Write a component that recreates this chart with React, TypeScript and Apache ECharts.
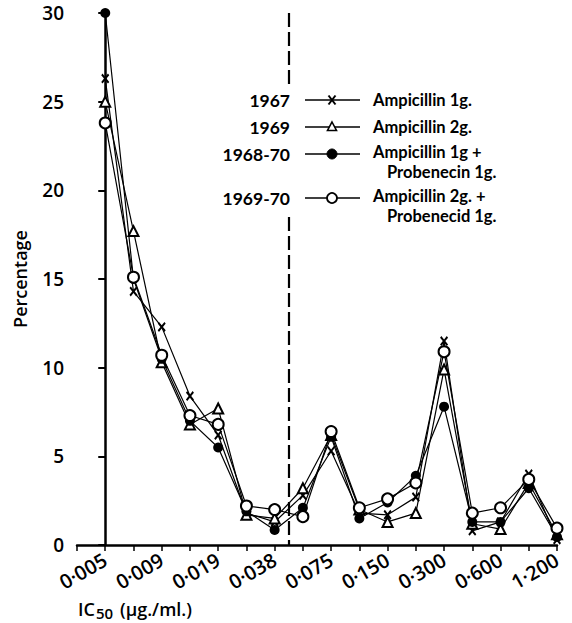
import React, { useEffect, useRef } from 'react';
import * as echarts from 'echarts';

// IC50 categories (µg/ml); labelled every other step
const concentrations = ['0·005', '', '0·009', '', '0·019', '', '0·038', '', '0·075', '', '0·150', '', '0·300', '', '0·600', '', '1·200'];

// Percentage of strains at each IC50
const amp1g1967 = [26.3, 14.3, 12.3, 8.4, 6.2, 1.8, 1.3, 2.8, 5.3, 1.8, 1.7, 2.7, 11.5, 0.8, 1.3, 4.0, 0.3];
const amp2g1969 = [25.0, 17.7, 10.3, 6.8, 7.7, 1.7, 1.5, 3.2, 6.2, 2.0, 1.3, 1.8, 9.9, 1.2, 0.9, 3.5, 0.6];
const amp1gProb1968_70 = [30.0, 15.0, 10.5, 7.0, 5.5, 1.9, 0.85, 2.1, 6.1, 1.5, 2.4, 3.9, 7.8, 1.3, 1.3, 3.2, 0.45];
const amp2gProb1969_70 = [23.8, 15.1, 10.7, 7.3, 6.8, 2.2, 2.0, 1.6, 6.4, 2.1, 2.6, 3.5, 10.9, 1.8, 2.1, 3.7, 0.95];

const yTickValues = [0, 5, 10, 15, 20, 25, 30];

// dashed divider between categories 0·038 and 0·075, interrupted by the key
const dividerX = 6.5;
const dividerGap = [18.5, 26.0];

const legendYears = ['1967', '1969', '1968-70', '1969-70'];
const legendNames = ['Ampicillin 1g.', 'Ampicillin 2g.', 'Ampicillin 1g +', 'Ampicillin 2g. +'];
const legendSecond = ['', '', 'Probenecin 1g.', 'Probenecid 1g.'];

const FONT = "'Open Sans', 'DejaVu Sans', sans-serif";
const LFONT = "Lato, 'Open Sans', sans-serif";
const XSYM = 'path://M0,1.6L1.6,0L5,3.4L8.4,0L10,1.6L6.6,5L10,8.4L8.4,10L5,6.6L1.6,10L0,8.4L3.4,5Z';

export default function App() {
  const ref = useRef<HTMLDivElement>(null);
  useEffect(() => {
    const chart = echarts.init(ref.current!, null, { renderer: 'svg' });
    const toData = (arr: number[]) => arr.map((v, i) => [i, v]);
    const lineStyle = { color: '#000', width: 1.2 };
    const txt = { fontFamily: FONT, fontSize: 18, fontWeight: 600, fill: '#000' };
    const ltxt = { fontFamily: LFONT, fontSize: 16.5, fontWeight: 'bold', fill: '#000' };

    const rowsY = [100, 127, 154, 198];
    const graphic: any[] = [];
    rowsY.forEach((y, i) => {
      graphic.push({ type: 'text', x: 290, y, style: { ...ltxt, fontSize: 17.5, text: legendYears[i], align: 'right', verticalAlign: 'middle' } });
      graphic.push({ type: 'line', shape: { x1: 305, y1: y, x2: 360, y2: y }, style: { stroke: '#000', lineWidth: 1.3 } });
      graphic.push({ type: 'text', x: 373, y: legendSecond[i] ? y - 2 : y, style: { ...ltxt, text: legendNames[i], align: 'left', verticalAlign: 'middle' } });
      if (legendSecond[i]) {
        graphic.push({ type: 'text', x: 387, y: y + 18, style: { ...ltxt, text: legendSecond[i], align: 'left', verticalAlign: 'middle' } });
      }
    });
    const mx = 332;
    graphic.push({ type: 'line', shape: { x1: mx - 3.5, y1: rowsY[0] - 4.5, x2: mx + 3.5, y2: rowsY[0] + 4.5 }, style: { stroke: '#000', lineWidth: 2 } });
    graphic.push({ type: 'line', shape: { x1: mx + 3.5, y1: rowsY[0] - 4.5, x2: mx - 3.5, y2: rowsY[0] + 4.5 }, style: { stroke: '#000', lineWidth: 2 } });
    graphic.push({ type: 'polygon', shape: { points: [[mx, rowsY[1] - 5], [mx + 4.5, rowsY[1] + 3.5], [mx - 4.5, rowsY[1] + 3.5]] }, style: { fill: '#fff', stroke: '#000', lineWidth: 1.6 } });
    graphic.push({ type: 'circle', shape: { cx: mx, cy: rowsY[2], r: 5 }, style: { fill: '#000', stroke: '#000', lineWidth: 1 } });
    graphic.push({ type: 'circle', shape: { cx: mx, cy: rowsY[3], r: 5 }, style: { fill: '#fff', stroke: '#000', lineWidth: 1.8 } });
    // x-axis title: IC50 (µg./ml.)
    graphic.push({ type: 'text', x: 78, y: 609, style: { ...txt, text: 'IC', align: 'left', verticalAlign: 'middle' } });
    graphic.push({ type: 'text', x: 96, y: 613, style: { ...txt, fontSize: 15, text: '50', align: 'left', verticalAlign: 'middle' } });
    graphic.push({ type: 'text', x: 120, y: 609, style: { ...txt, text: '(µg./ml.)', align: 'left', verticalAlign: 'middle' } });

    chart.setOption({
      animation: false,
      backgroundColor: '#fff',
      grid: { left: 77, right: 15, top: 13, bottom: 78, containLabel: false },
      xAxis: {
        type: 'value', min: -1, max: concentrations.length - 1, interval: 1,
        axisLine: { show: true, onZero: false, lineStyle: { color: '#000', width: 2.5 } },
        axisTick: { show: true, length: 6, lineStyle: { color: '#000', width: 1.5 } },
        splitLine: { show: false },
        axisLabel: {
          rotate: 30, margin: 13, fontFamily: FONT, fontSize: 20, fontWeight: 600, color: '#000',
          formatter: (v: number) => (v >= 0 && concentrations[v]) ? concentrations[v] : '',
        },
      },
      yAxis: {
        type: 'value', min: yTickValues[0], max: yTickValues[yTickValues.length - 1], interval: 5,
        name: 'Percentage', nameLocation: 'middle', nameRotate: 90, nameGap: 48,
        nameTextStyle: { fontFamily: FONT, fontSize: 18, fontWeight: 600, color: '#000' },
        axisLine: { show: true, lineStyle: { color: '#000', width: 2.5 } },
        axisTick: { show: true, length: 7, lineStyle: { color: '#000', width: 2 } },
        splitLine: { show: false },
        axisLabel: { margin: 13, fontFamily: FONT, fontSize: 19, fontWeight: 600, color: '#000' },
      },
      graphic,
      series: [
        {
          name: '1967', type: 'line', data: toData(amp1g1967), symbol: XSYM, symbolSize: [8, 10],
          lineStyle, itemStyle: { color: '#000' }, z: 2,
          markLine: {
            silent: true, symbol: 'none', label: { show: false },
            lineStyle: { color: '#000', width: 2.2, type: [14, 5] },
            data: [
              [{ coord: [dividerX, 30] }, { coord: [dividerX, dividerGap[1]] }],
              [{ coord: [dividerX, dividerGap[0]] }, { coord: [dividerX, 0] }],
            ],
          },
        },
        {
          name: '1969', type: 'line', data: toData(amp2g1969), symbol: 'emptyTriangle', symbolSize: 10,
          lineStyle, itemStyle: { color: '#000', borderColor: '#000', borderWidth: 1.6 }, z: 3,
        },
        {
          name: '1968-70', type: 'line', data: toData(amp1gProb1968_70), symbol: 'circle', symbolSize: 10,
          lineStyle, itemStyle: { color: '#000' }, z: 4,
        },
        {
          name: '1969-70', type: 'line', data: toData(amp2gProb1969_70), symbol: 'emptyCircle', symbolSize: 11,
          lineStyle, itemStyle: { color: '#000', borderColor: '#000', borderWidth: 2 }, z: 5,
        },
      ],
    });
    return () => chart.dispose();
  }, []);
  return <div ref={ref} style={{ position: 'fixed', left: 0, top: 0, width: 572, height: 623, background: '#fff' }} />;
}
